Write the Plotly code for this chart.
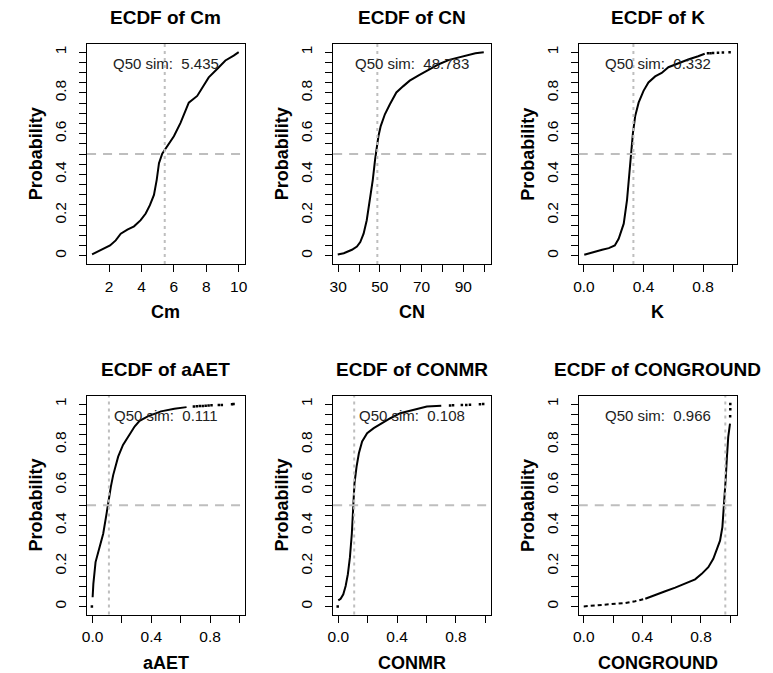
import plotly.graph_objects as go

W, H = 773, 673

# ---------------- data ----------------
NAMES = ["Cm", "CN", "K", "aAET", "CONMR", "CONGROUND"]
Q50 = [5.435, 48.783, 0.332, 0.111, 0.108, 0.966]
Q50_TEXT = ["5.435", "48.783", "0.332", "0.111", "0.108", "0.966"]

CM_X = [0.95, 1.69, 2.06, 2.41, 2.72, 3.13, 3.54, 3.95, 4.26, 4.52, 4.77, 4.94, 5.08, 5.28,
        5.59, 6.0, 6.41, 6.72, 6.92, 7.44, 7.85, 8.15, 8.67, 9.18, 9.69, 10.0]
CM_P = [0.007, 0.035, 0.051, 0.076, 0.109, 0.129, 0.145, 0.175, 0.208, 0.249, 0.299, 0.373, 0.455, 0.502,
        0.538, 0.587, 0.653, 0.719, 0.752, 0.785, 0.835, 0.876, 0.917, 0.959, 0.983, 1.0]

CN_X = [29.8, 32.7, 36.6, 39.0, 40.6, 42.2, 43.7, 45.3, 46.6, 47.7, 48.5, 49.3, 50.4, 52.4, 54.8,
        57.9, 61.1, 64.3, 69.0, 73.7, 78.5, 83.2, 89.5, 95.8, 99.8]
CN_P = [0.007, 0.013, 0.030, 0.046, 0.068, 0.109, 0.175, 0.274, 0.373, 0.472, 0.538, 0.587, 0.637, 0.695, 0.744,
        0.802, 0.832, 0.860, 0.888, 0.913, 0.942, 0.962, 0.980, 0.995, 1.0]

K_X = [0.002, 0.056, 0.122, 0.167, 0.207, 0.233, 0.267, 0.289, 0.304, 0.318, 0.329, 0.344, 0.367, 0.40,
       0.433, 0.478, 0.522, 0.567, 0.633, 0.70, 0.767, 0.811]
K_P = [0.005, 0.018, 0.030, 0.038, 0.051, 0.084, 0.158, 0.274, 0.406, 0.505, 0.604, 0.686, 0.752, 0.810,
       0.851, 0.881, 0.898, 0.926, 0.946, 0.964, 0.980, 0.992]
K_TAIL_X = [0.833, 0.850, 0.867, 0.90, 0.933, 0.978]
K_TAIL_P = [0.994, 0.995, 0.996, 0.997, 0.998, 1.0]

AAET_X = [0.0, 0.005, 0.020, 0.050, 0.072, 0.095, 0.110, 0.124, 0.140, 0.174, 0.207, 0.241, 0.286,
          0.320, 0.376, 0.466, 0.557, 0.640]
AAET_P = [0.045, 0.111, 0.219, 0.293, 0.359, 0.459, 0.541, 0.591, 0.649, 0.740, 0.798, 0.839, 0.889,
          0.917, 0.939, 0.964, 0.977, 0.985]
AAET_TAIL_X = [-0.005, 0.69, 0.71, 0.73, 0.75, 0.77, 0.79, 0.81, 0.86, 0.88, 0.95, 0.96]
AAET_TAIL_P = [0.0, 0.988, 0.989, 0.990, 0.991, 0.992, 0.993, 0.994, 0.995, 0.996, 0.999, 1.0]

CONMR_X = [0.0, 0.016, 0.034, 0.050, 0.065, 0.079, 0.092, 0.101, 0.110, 0.124, 0.140, 0.162, 0.196,
           0.241, 0.297, 0.354, 0.421, 0.512, 0.602, 0.700]
CONMR_P = [0.030, 0.038, 0.060, 0.101, 0.159, 0.242, 0.359, 0.492, 0.608, 0.690, 0.757, 0.815, 0.856,
           0.881, 0.906, 0.930, 0.955, 0.972, 0.988, 0.992]
CONMR_TAIL_X = [-0.004, 0.76, 0.78, 0.84, 0.87, 0.895, 0.963, 0.985]
CONMR_TAIL_P = [0.0, 0.993, 0.994, 0.995, 0.996, 0.997, 0.999, 1.0]

CG_LOW_X = [0.0, 0.034, 0.079, 0.125, 0.170, 0.215, 0.283, 0.351, 0.420]
CG_LOW_P = [0.0, 0.002, 0.005, 0.008, 0.010, 0.013, 0.017, 0.026, 0.038]
CG_X = [0.420, 0.488, 0.556, 0.624, 0.692, 0.760, 0.805, 0.850, 0.884, 0.907, 0.930, 0.946, 0.957,
        0.968, 0.977, 0.986, 0.998]
CG_P = [0.038, 0.055, 0.075, 0.093, 0.113, 0.134, 0.161, 0.194, 0.235, 0.276, 0.325, 0.392, 0.491,
        0.623, 0.738, 0.838, 0.904]
CG_TAIL_X = [0.999, 1.0, 1.0]
CG_TAIL_P = [0.94, 0.975, 1.0]

X_TICKS = [
    [2, 4, 6, 8, 10],
    [30, 40, 50, 60, 70, 80, 90, 100],
    [0.0, 0.2, 0.4, 0.6, 0.8, 1.0],
    [0.0, 0.2, 0.4, 0.6, 0.8, 1.0],
    [0.0, 0.2, 0.4, 0.6, 0.8, 1.0],
    [0.0, 0.2, 0.4, 0.6, 0.8, 1.0],
]
X_TICKTEXT = [
    ["2", "4", "6", "8", "10"],
    ["30", "", "50", "", "70", "", "90", ""],
    ["0.0", "", "0.4", "", "0.8", ""],
    ["0.0", "", "0.4", "", "0.8", ""],
    ["0.0", "", "0.4", "", "0.8", ""],
    ["0.0", "", "0.4", "", "0.8", ""],
]
Y_TICKS = [0.0, 0.05, 0.1, 0.15, 0.2, 0.25, 0.3, 0.35, 0.4, 0.45, 0.5,
           0.55, 0.6, 0.65, 0.7, 0.75, 0.8, 0.85, 0.9, 0.95, 1.0]
Y_TICKTEXT = ["0", "", "", "", "0.2", "", "", "", "0.4", "", "",
              "", "0.6", "", "", "", "0.8", "", "", "", "1"]

MAIN = [(CM_X, CM_P), (CN_X, CN_P), (K_X, K_P), (AAET_X, AAET_P), (CONMR_X, CONMR_P), (CG_X, CG_P)]
TAILS = [None, None, (K_TAIL_X, K_TAIL_P), (AAET_TAIL_X, AAET_TAIL_P),
         (CONMR_TAIL_X, CONMR_TAIL_P), (CG_TAIL_X, CG_TAIL_P)]

# ---------------- layout geometry (pixels) ----------------
X_RANGES = [[0.64, 10.37], [27.6, 103.4], [-0.035, 1.027], [-0.038, 1.036], [-0.035, 1.04], [-0.034, 1.045]]
COLS = [(82, 241.5), (331, 491), (579.5, 739.5)]
ROWS = [(44, 264), (396, 614.5)]

FONT = "Liberation Sans, Arial, sans-serif"
GRAY = "#BEBEBE"

fig = go.Figure()
annotations = []
shapes = []
layout = dict(width=W, height=H, margin=dict(l=0, r=0, t=0, b=0),
              paper_bgcolor="white", plot_bgcolor="white", showlegend=False,
              font=dict(family=FONT, color="black", size=15))

for i, name in enumerate(NAMES):
    r, c = divmod(i, 3)
    x0, x1 = COLS[c]
    top, bot = ROWS[r]
    n = "" if i == 0 else str(i + 1)
    xa, ya = "x" + n, "y" + n
    mx, mp = MAIN[i]
    fig.add_trace(go.Scatter(x=mx, y=mp, mode="lines", xaxis=xa, yaxis=ya,
                             line=dict(color="black", width=2), hoverinfo="skip"))
    if i == 5:
        fig.add_trace(go.Scatter(x=CG_LOW_X, y=CG_LOW_P, mode="lines", xaxis=xa, yaxis=ya,
                                 line=dict(color="black", width=2, dash="4px,3px"), hoverinfo="skip"))
    if TAILS[i] is not None:
        tx, tp = TAILS[i]
        fig.add_trace(go.Scatter(x=tx, y=tp, mode="markers", xaxis=xa, yaxis=ya,
                                 marker=dict(color="black", size=2.5, symbol="square"), hoverinfo="skip"))

    axis_common = dict(showline=True, mirror=True, linecolor="black", linewidth=1,
                       ticks="outside", ticklen=7, tickcolor="black", tickwidth=1,
                       showgrid=False, zeroline=False,
                       tickfont=dict(family=FONT, size=15.5, color="black"))
    layout["xaxis" + n] = dict(domain=[x0 / W, x1 / W], anchor=ya, range=X_RANGES[i],
                               tickmode="array", tickvals=X_TICKS[i], ticktext=X_TICKTEXT[i],
                               ticklabelstandoff=1, **axis_common)
    layout["yaxis" + n] = dict(domain=[1 - bot / H, 1 - top / H], anchor=xa, range=[-0.04, 1.04],
                               tickmode="array", tickvals=Y_TICKS, ticktext=Y_TICKTEXT,
                               tickangle=-90, ticklabelstandoff=7, **axis_common)

    # reference lines
    shapes.append(dict(type="line", xref=xa + " domain", yref=ya, x0=0, x1=1, y0=0.5, y1=0.5,
                       line=dict(color=GRAY, width=2, dash="9px,7px"), layer="above"))
    shapes.append(dict(type="line", xref=xa, yref=ya + " domain", x0=Q50[i], x1=Q50[i], y0=0, y1=1,
                       line=dict(color=GRAY, width=2, dash="3px,4px"), layer="above"))

    cx = (x0 + x1) / 2 / W
    # title
    annotations.append(dict(text="<b>ECDF of " + name + "</b>", xref="paper", yref="paper",
                            x=cx, y=1 - (top - 27) / H, xanchor="center", yanchor="middle",
                            showarrow=False, font=dict(family=FONT, size=19, color="black")))
    # x label
    annotations.append(dict(text="<b>" + name + "</b>", xref="paper", yref="paper",
                            x=cx, y=1 - (bot + 48) / H, xanchor="center", yanchor="middle",
                            showarrow=False, font=dict(family=FONT, size=18, color="black")))
    # y label
    annotations.append(dict(text="<b>Probability</b>", xref="paper", yref="paper",
                            x=(x0 - 51.5) / W, y=1 - (top + bot) / 2 / H, xanchor="center", yanchor="middle",
                            textangle=-90, showarrow=False,
                            font=dict(family=FONT, size=18, color="black")))
    # Q50 text
    annotations.append(dict(text="Q50 sim: \u00a0" + Q50_TEXT[i], xref=xa + " domain", yref=ya,
                            x=0.5, y=0.945, xanchor="center", yanchor="middle", showarrow=False,
                            font=dict(family=FONT, size=15, color="#222222")))

layout["annotations"] = annotations
layout["shapes"] = shapes
fig.update_layout(**layout)
fig.write_html("out.html", config={"displayModeBar": False},
               post_script="document.body.style.margin='0px';document.body.style.overflow='hidden';")
